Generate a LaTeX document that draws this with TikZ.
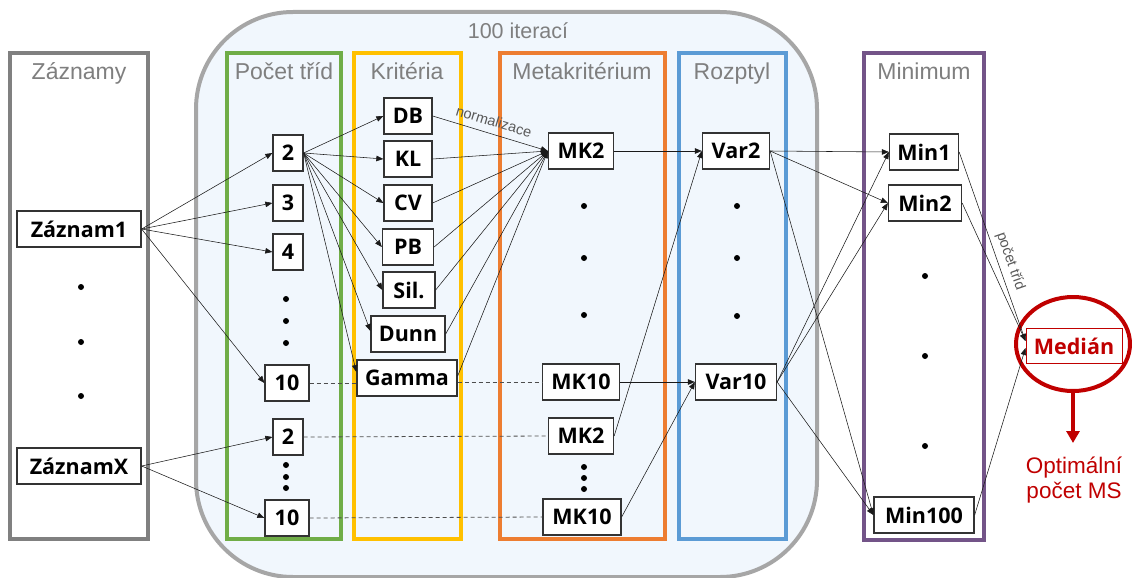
\documentclass[tikz,border=0pt]{standalone}
\usepackage{fontspec}
\setmainfont{Liberation Sans}
\newfontfamily\boxfont{Open Sans}
\usetikzlibrary{arrows.meta,shapes.geometric}

\definecolor{titlegray}{HTML}{7F7F7F}
\definecolor{outergray}{HTML}{808080}
\definecolor{loopgray}{HTML}{A6A6A6}
\definecolor{loopfill}{HTML}{F1F7FD}
\definecolor{cgreen}{HTML}{70AD47}
\definecolor{cyellow}{HTML}{FFC000}
\definecolor{corange}{HTML}{ED7D31}
\definecolor{cblue}{HTML}{5B9BD5}
\definecolor{cpurple}{HTML}{735488}
\definecolor{cred}{HTML}{C00000}
\definecolor{nodeborder}{HTML}{333333}
\definecolor{linecol}{HTML}{1A1A1A}
\definecolor{dashcol}{HTML}{4D4D4D}
\definecolor{labelgray}{HTML}{595959}

\tikzset{
  colbox/.style={line width=3.5pt},
  ttl/.style={text=titlegray, anchor=base, inner sep=0pt,
    font=\fontsize{23}{25}\selectfont},
  nd/.style={draw=nodeborder, line width=1.3pt, fill=white,
    minimum height=36pt, inner sep=0pt,
    font=\boxfont\bfseries\fontsize{21.5}{24}\selectfont},
  arr/.style={draw=linecol, line width=0.55pt,
    -{Triangle[length=7pt,width=5.5pt]}},
  dsh/.style={draw=dashcol, line width=0.8pt, dash pattern=on 4pt off 3pt},
  dotmark/.style={circle, fill=black, inner sep=0pt, minimum size=6pt},
  edgelbl/.style={text=labelgray, font=\fontsize{14.5}{16}\selectfont, inner sep=2pt},
}

\begin{document}
\begin{tikzpicture}[x=1pt,y=-1pt]
\useasboundingbox (0,0) rectangle (1132,578);

% outer columns
\draw[colbox, draw=outergray, fill=white] (10,53) rectangle (148,539);
\draw[colbox, draw=cpurple, fill=white] (864,53) rectangle (984,540);

% iteration loop
\draw[line width=4pt, draw=loopgray, fill=loopfill, rounded corners=97pt]
  (196,12) rectangle (817,577);
\node[text=titlegray, anchor=base, inner sep=0pt, font=\fontsize{21.5}{24}\selectfont]
  (iter) at (518,39) {100 iterací};

% inner columns
\draw[colbox, draw=cgreen] (227,53) rectangle (341,539);
\draw[colbox, draw=cyellow] (354,53) rectangle (461,539);
\draw[colbox, draw=corange] (500,53) rectangle (665,539);
\draw[colbox, draw=cblue] (679,53) rectangle (786,539);

% column titles
\node[ttl] (t1) at (79,80) {Záznamy};
\node[ttl] (t2) at (284,80) {Počet tříd};
\node[ttl] (t3) at (407,80) {Kritéria};
\node[ttl] (t4) at (582,80) {Metakritérium};
\node[ttl] (t5) at (732,80) {Rozptyl};
\node[ttl] (t6) at (924,80) {Minimum};

% records
\node[nd, minimum width=124pt] (z1) at (79,229) {Záznam1};
\node[nd, minimum width=124pt] (zx) at (79,466) {ZáznamX};
\node[dotmark] (zd1) at (81,287) {};
\node[dotmark] (zd2) at (81,342) {};
\node[dotmark] (zd3) at (81,396) {};

% number of classes
\node[nd, minimum width=30pt] (c2) at (288,153) {2};
\node[nd, minimum width=30pt] (c3) at (288,203) {3};
\node[nd, minimum width=30pt] (c4) at (288,252) {4};
\node[dotmark] (cd1) at (286,299) {};
\node[dotmark] (cd2) at (286,321) {};
\node[dotmark] (cd3) at (286,343) {};
\node[nd, minimum width=44pt] (c10) at (287,383) {10};
\node[nd, minimum width=30pt] (d2) at (288,437) {2};
\node[dotmark] (dd1) at (286,465) {};
\node[dotmark] (dd2) at (286,477) {};
\node[dotmark] (dd3) at (286,488) {};
\node[nd, minimum width=44pt] (d10) at (287,518) {10};

% criteria
\node[nd, minimum width=48pt] (db) at (408,116) {DB};
\node[nd, minimum width=48pt] (kl) at (408,159) {KL};
\node[nd, minimum width=48pt] (cv) at (408,203) {CV};
\node[nd, minimum width=51pt] (pb) at (408,247) {PB};
\node[nd, minimum width=52pt] (sil) at (409,290) {Sil.};
\node[nd, minimum width=74pt] (dunn) at (408,334) {Dunn};
\node[nd, minimum width=100pt] (gamma) at (407,378) {Gamma};

% metacriterion
\node[nd, minimum width=65pt] (mk2) at (581,151) {MK2};
\node[dotmark] (md1) at (584,206) {};
\node[dotmark] (md2) at (584,258) {};
\node[dotmark] (md3) at (584,315) {};
\node[nd, minimum width=77pt] (mk10) at (581,382) {MK10};
\node[nd, minimum width=65pt] (mkb2) at (581,436) {MK2};
\node[dotmark] (me1) at (584,467) {};
\node[dotmark] (me2) at (584,478) {};
\node[dotmark] (me3) at (584,489) {};
\node[nd, minimum width=78pt] (mkb10) at (582,517) {MK10};

% variance
\node[nd, minimum width=67pt] (v2) at (736,151) {Var2};
\node[dotmark] (vd1) at (737,206) {};
\node[dotmark] (vd2) at (737,258) {};
\node[dotmark] (vd3) at (737,316) {};
\node[nd, minimum width=81pt] (v10) at (736,382) {Var10};

% minimum
\node[nd, minimum width=69pt] (m1) at (924,152) {Min1};
\node[nd, minimum width=73pt] (m2) at (925,203) {Min2};
\node[dotmark] (nd1) at (925,276) {};
\node[dotmark] (nd2) at (925,356) {};
\node[dotmark] (nd3) at (925,446) {};
\node[nd, minimum width=100pt] (m100) at (924,515) {Min100};

% median
\node[ellipse, draw=cred, line width=4pt, minimum width=114pt, minimum height=94pt]
  (ell) at (1073,344) {};
\node[draw=cred, line width=1pt, fill=white, minimum width=96pt, minimum height=35pt,
  inner sep=0pt, text=cred, font=\boxfont\bfseries\fontsize{21.5}{24}\selectfont]
  (med) at (1074,346) {Medián};
\coordinate (tip) at (1073,443);
\node[text=cred, anchor=base, inner sep=0pt, font=\fontsize{22.5}{25}\selectfont]
  (opt1) at (1074,473) {Optimální};
\node[text=cred, anchor=base, inner sep=0pt, font=\fontsize{22.5}{25}\selectfont]
  (opt2) at (1074,498) {počet MS};
\draw[draw=cred, line width=3.5pt, -{Triangle[length=12pt,width=13pt]}] (ell.south) -- (tip);

% records -> number of classes
\foreach \t in {c2,c3,c4,c10} \draw[arr] (z1.east) -- (\t.west);
\foreach \t in {d2,d10} \draw[arr] (zx.east) -- (\t.west);

% number of classes -> criteria
\foreach \t in {db,kl,cv,pb,sil} \draw[arr] (c2.east) -- (\t.west);
\draw[arr] (c2.east) -- ([yshift=3pt]dunn.west);
\draw[arr] (c2.east) -- ([yshift=6pt]gamma.west);

% dashed continuations
\draw[dsh] (c10.east) -- (c10.east -| gamma.west);
\draw[dsh] (gamma.east |- mk10.west) -- (mk10.west);
\draw[dsh] (d2.east) -- (mkb2.west);
\draw[dsh] (d10.east) -- (mkb10.west);

% criteria -> metacriterion
\draw[arr] (db.east) -- node[edgelbl, sloped, above=5pt] {normalizace} (mk2.west);
\foreach \s in {kl,cv,pb,sil,dunn} \draw[arr] (\s.east) -- (mk2.west);
\draw[arr] ([yshift=2pt]gamma.east) -- (mk2.west);

% metacriterion -> variance
\draw[arr] (mk2.east) -- (v2.west);
\draw[arr] (mk10.east) -- (v10.west);
\draw[arr] (mkb2.east) -- (v2.west);
\draw[arr] (mkb10.east) -- (v10.west);

% variance -> minimum
\foreach \t in {m1,m2,m100} {
  \draw[arr] (v2.east) -- (\t.west);
  \draw[arr] (v10.east) -- (\t.west);
}

% minimum -> median
\draw[arr] (m1.east) -- node[edgelbl, sloped, above=3pt, pos=0.6] {počet tříd} ([yshift=5pt]med.west);
\draw[arr] (m2.east) -- ([yshift=5pt]med.west);
\draw[arr] (m100.east) -- ([yshift=-2pt]med.west);
\end{tikzpicture}
\end{document}
